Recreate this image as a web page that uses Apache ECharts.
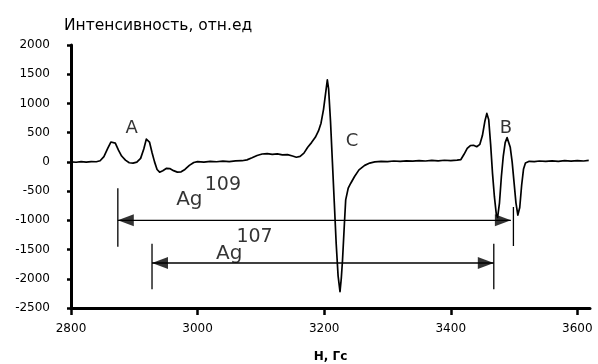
<!DOCTYPE html>
<html><head><meta charset="utf-8">
<script src="https://cdn.jsdelivr.net/npm/echarts@6/dist/echarts.min.js"></script>
<style>html,body{margin:0;padding:0;background:#fff}#c{width:598px;height:364px}</style>
</head><body><div id="c"></div>
<script>
// ---- data ----
const fieldH = [2800,2808,2816,2824,2832,2840,2846,2852,2858,2863,2866,2870,2875,2880,2886,2892,2898,2904,2910,2915,2919,2921,2924,2928,2932,2936,2940,2945,2951,2956,2962,2968,2974,2980,2987,2994,3000,3010,3020,3030,3040,3050,3060,3070,3078,3086,3094,3102,3110,3118,3126,3134,3142,3150,3156,3162,3168,3174,3180,3186,3191,3195,3199,3202,3205,3207,3210,3213,3216,3219,3222,3225,3227,3229,3232,3234,3238,3242,3248,3255,3264,3272,3280,3290,3300,3310,3320,3330,3340,3350,3360,3370,3380,3390,3400,3410,3416,3421,3426,3431,3436,3441,3446,3450,3454,3457,3460,3463,3466,3469,3472,3474,3477,3480,3483,3486,3489,3491,3494,3497,3500,3503,3506,3509,3512,3515,3518,3524,3532,3540,3550,3560,3570,3580,3590,3600,3610,3618];
const intensity = [0,-6,4,-3,6,2,20,90,230,340,365,320,200,100,30,-15,-20,-5,60,220,390,416,340,160,0,-130,-176,-150,-110,-115,-150,-175,-170,-130,-60,-10,5,-5,8,2,12,6,18,20,35,70,110,135,140,128,138,120,125,100,80,95,150,250,330,420,530,663,900,1150,1404,1250,700,0,-700,-1400,-1950,-2221,-2000,-1678,-1050,-650,-450,-365,-250,-137,-60,-20,0,10,5,15,10,18,12,22,15,25,18,28,20,30,40,130,230,280,285,260,300,450,700,830,720,300,-200,-600,-900,-950,-700,-250,100,330,415,400,250,0,-350,-700,-910,-780,-400,-120,-20,10,5,15,8,18,10,20,12,22,15,25];

const yTicks = [-2500,-2000,-1500,-1000,-500,0,500,1000,1500,2000];
const xTicks = [2800,3000,3200,3400,3600];

// annotation arrows (data coords): [leftH, rightH, level]
const ag109Arrow = [2874, 3495, -1000];
const ag109Bars = [[2874, -450, -1450], [3499, -770, -1440]];
const ag107Arrow = [2928, 3468, -1730];
const ag107Bars = [[2928, -1400, -2180], [3468, -1400, -2180]];

// text annotations
const peakLabels = ['A', 'C', 'B'];
const peakLabelH = [2896, 3244, 3487];
const peakLabelI = [577, 348, 577];
const isoText = ['Ag', 'Ag'];
const isoH = [2987, 3050];
const isoI = [-651, -1575];
const massText = ['109', '107'];
const massH = [3040, 3090];
const massI = [-394, -1293];

// ---- chart ----
const FONT = '"DejaVu Sans", sans-serif';
const chart = echarts.init(document.getElementById('c'));
const curve = fieldH.map((h, i) => [h, intensity[i]]);

const headPx = 16; // arrowhead length in px
const xPxPerUnit = 519 / 820;
const headOff = headPx / 2 / xPxPerUnit;

function arrowSeries(arr, bars) {
  const out = [];
  out.push({type: 'line', data: [[arr[0], arr[2]], [arr[1], arr[2]]], symbol: 'none',
    lineStyle: {color: '#000', width: 1.3}, silent: true, z: 3});
  bars.forEach(b => out.push({type: 'line', data: [[b[0], b[1]], [b[0], b[2]]], symbol: 'none',
    lineStyle: {color: '#000', width: 1.3}, silent: true, z: 3}));
  out.push({type: 'scatter', symbol: 'triangle', symbolSize: [12, headPx], silent: true, z: 4,
    itemStyle: {color: '#000'},
    data: [{value: [arr[0] + headOff, arr[2]], symbolRotate: 90},
           {value: [arr[1] - headOff, arr[2]], symbolRotate: -90}]});
  return out;
}

function textSeries(texts, hs, is, size) {
  return {type: 'scatter', symbolSize: 0, silent: true, z: 5,
    data: texts.map((t, i) => ({name: t, value: [hs[i], is[i]]})),
    label: {show: true, position: 'inside', formatter: '{b}', color: '#000',
      fontSize: size, fontFamily: FONT}};
}

const option = {
  animation: false,
  backgroundColor: '#fff',
  title: {text: 'Интенсивность, отн.ед', left: 59, top: 13,
    textStyle: {fontSize: 15.5, fontWeight: 'normal', color: '#000', fontFamily: FONT}},
  grid: {left: 71, right: 8, top: 45, bottom: 56, containLabel: false, outerBoundsMode: 'none'},
  xAxis: {type: 'value', min: 2800, max: 3620,
    name: 'H, Гс', nameLocation: 'middle', nameGap: 43,
    nameTextStyle: {fontSize: 12, fontWeight: 'bold', color: '#000', fontFamily: FONT},
    axisLine: {show: true, onZero: false, lineStyle: {color: '#000', width: 3}},
    axisTick: {show: true, customValues: xTicks, length: 7, lineStyle: {color: '#000', width: 2.5}},
    axisLabel: {customValues: xTicks, color: '#000', fontSize: 12, fontFamily: FONT, margin: 15,
      formatter: v => String(v)},
    splitLine: {show: false}},
  yAxis: {type: 'value', min: -2500, max: 2000, interval: 500,
    axisLine: {show: true, onZero: false, lineStyle: {color: '#000', width: 3}},
    axisTick: {show: true, length: 4, lineStyle: {color: '#000', width: 2.5}},
    axisLabel: {color: '#000', fontSize: 12, fontFamily: FONT, margin: 21,
      formatter: v => String(v)},
    splitLine: {show: false}},
  series: [
    {type: 'line', data: curve, symbol: 'none', z: 2,
      lineStyle: {color: '#000', width: 1.7, join: 'round'}},
    ...arrowSeries(ag109Arrow, ag109Bars),
    ...arrowSeries(ag107Arrow, ag107Bars),
    textSeries(peakLabels, peakLabelH, peakLabelI, 18),
    textSeries(isoText, isoH, isoI, 20),
    textSeries(massText, massH, massI, 19)
  ]
};
chart.setOption(option);
</script></body></html>
